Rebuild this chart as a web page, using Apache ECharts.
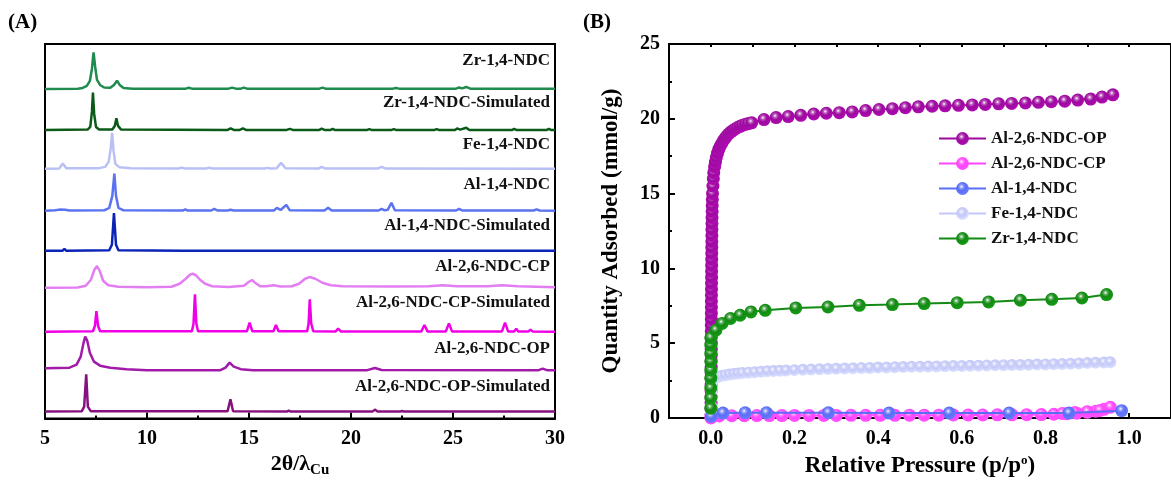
<!DOCTYPE html>
<html>
<head>
<meta charset="utf-8">
<script src="https://cdn.jsdelivr.net/npm/echarts@6/dist/echarts.min.js"></script>
<style>
  html, body { margin: 0; padding: 0; background: #fff; }
  #chart { width: 1171px; height: 483px; }
</style>
</head>
<body>
<div id="chart"></div>
<script>
// ---------- (A) PXRD patterns: [2θ, intensity above the trace baseline] ----------
const xrdNames = [
  'Zr-1,4-NDC', 'Zr-1,4-NDC-Simulated', 'Fe-1,4-NDC', 'Al-1,4-NDC', 'Al-1,4-NDC-Simulated',
  'Al-2,6-NDC-CP', 'Al-2,6-NDC-CP-Simulated', 'Al-2,6-NDC-OP', 'Al-2,6-NDC-OP-Simulated'
];
// stacking offset of each pattern (same units as intensity)
const xrdOffsets = [330, 289, 250, 208, 168, 131, 87, 48, 7];

const xrdZr14 = [[5,0],[6.6,0.3],[6.85,1],[7.05,3],[7.2,8],[7.3,20],[7.38,36.7],[7.46,22],[7.55,9],[7.7,4],[7.9,1.5],[8.2,1.2],[8.38,4],[8.53,8.3],[8.66,4],[8.85,1],[9.3,0.3],[11.9,0.3],[12.04,1.2],[12.2,0.3],[14.0,0.3],[14.17,1.3],[14.35,0.3],[14.6,0.3],[14.74,1.3],[14.9,0.3],[18.45,0.3],[18.6,1.3],[18.75,0.3],[22.05,0.3],[22.2,1],[22.35,0.3],[25.15,0.3],[25.3,1.5],[25.45,0.6],[25.65,2],[25.85,0.3],[30,0.3]];
const xrdZr14Sim = [[5,0],[7.1,0.5],[7.22,3],[7.3,18],[7.35,37.3],[7.41,16],[7.5,3],[7.65,0.5],[8.3,0.5],[8.42,4],[8.5,11.7],[8.58,4],[8.72,0.5],[13.95,0],[14.1,1.5],[14.25,0],[14.55,0],[14.7,1.5],[14.85,0],[16.85,0],[17.0,1],[17.15,0],[18.45,0],[18.56,1.2],[18.7,0],[19.0,0],[19.1,1],[19.2,0],[20.8,0],[20.9,0.8],[21.0,0],[22.0,0],[22.1,0.8],[22.2,0],[24.1,0],[24.2,0.8],[24.3,0],[25.1,0],[25.2,1.5],[25.35,0.3],[25.65,2.2],[25.8,0],[27.9,0],[28.0,1],[28.1,0],[29.6,0],[29.7,1],[29.8,0],[30,0]];
const xrdFe14 = [[5,0],[5.7,0.3],[5.87,5.3],[6.05,0.5],[7.6,0.5],[7.95,2],[8.12,7],[8.22,20],[8.29,36],[8.36,18],[8.45,5],[8.65,1.5],[9.2,0.5],[11.55,0.3],[11.7,1.2],[11.85,0.3],[12.9,0.3],[13.06,1.2],[13.2,0.3],[15.75,0.3],[15.9,1],[16.05,0.3],[16.35,0.5],[16.57,6],[16.8,0.5],[18.4,0.3],[18.56,2],[18.75,0.3],[21.3,0.3],[21.5,2],[21.7,0.3],[30,0]];
const xrdAl14 = [[5,0],[5.5,0.5],[5.7,1.2],[6.0,1.0],[6.2,0.3],[7.9,0.5],[8.15,3],[8.3,15],[8.4,37.3],[8.48,15],[8.6,3],[8.85,0.5],[11.75,0.3],[11.88,1.5],[12.0,0.3],[13.15,0.3],[13.3,2],[13.45,0.3],[13.95,0.3],[14.1,1],[14.25,0.3],[16.22,0.3],[16.37,3],[16.55,0.8],[16.83,6],[17.0,0.5],[18.7,0.3],[18.88,3],[19.05,0.3],[21.35,0.3],[21.5,2],[21.65,0.5],[21.8,1],[21.98,8],[22.15,0.5],[25.15,0.3],[25.3,2],[25.45,0.3],[28.95,0.3],[29.1,1.5],[29.25,0.3],[30,0]];
const xrdAl14Sim = [[5,0],[5.85,0],[5.95,2],[6.05,0],[8.15,0.5],[8.28,6],[8.38,37.7],[8.48,6],[8.6,0.5],[11.8,0],[11.88,1.5],[11.96,0],[16.72,0],[16.8,1.5],[16.88,0],[18.72,0],[18.8,1],[18.88,0],[30,0]];
const xrdAl26CP = [[5,0],[6.6,0.3],[7.0,2],[7.25,8],[7.42,18],[7.55,21.7],[7.68,17],[7.85,7],[8.1,2.5],[8.6,1],[10,0.5],[11.2,1],[11.6,4],[11.9,9],[12.1,13],[12.24,14],[12.4,12.5],[12.6,8],[12.85,4],[13.2,1.5],[14.0,0.8],[14.75,2],[15.0,6],[15.15,7.7],[15.3,5],[15.55,1.5],[15.85,1.5],[16.2,2.5],[16.55,1.2],[17.1,1.5],[17.45,4],[17.75,9],[17.98,10.7],[18.25,9],[18.6,5],[19.0,2.5],[19.6,1.5],[22,1.2],[23.8,1.5],[24.5,2.5],[25.2,1.5],[26.7,1.5],[27.4,2.5],[28.2,1.5],[30,0.5]];
const xrdAl26CPSim = [[5,0],[7.35,0.5],[7.45,6],[7.52,20.7],[7.6,6],[7.7,0.5],[12.2,0.5],[12.28,8],[12.35,37.3],[12.42,8],[12.5,0.5],[14.9,0.5],[15.03,9],[15.16,0.5],[16.2,0.5],[16.32,6.7],[16.45,0.5],[17.85,0.5],[17.92,8],[17.98,32.3],[18.05,8],[18.15,0.5],[19.25,0.3],[19.37,3],[19.5,0.3],[23.45,0.3],[23.6,6.7],[23.75,0.3],[24.65,0.3],[24.8,8.3],[24.95,0.3],[27.4,0.3],[27.55,9],[27.7,0.3],[28.0,0.3],[28.1,3],[28.2,0.3],[28.7,0.3],[28.8,2],[28.9,0.3],[30,0]];
const xrdAl26OP = [[5,2.5],[6.2,3],[6.55,6],[6.75,14],[6.88,27],[6.97,34],[7.07,30],[7.2,18],[7.4,9],[7.7,5],[8.2,3],[9,1.5],[10,0.5],[12,0.3],[13.6,0.5],[13.85,3],[14.05,8],[14.25,4],[14.6,1.5],[15.2,0.5],[20.8,0.5],[21.17,2.7],[21.5,0.7],[29.2,0.5],[29.4,2],[29.6,0.5],[30,0.3]];
const xrdAl26OPSim = [[5,0],[6.8,0.3],[6.92,5],[7.02,37.3],[7.1,5],[7.25,0.3],[13.95,0.3],[14.09,12.3],[14.22,0.3],[16.85,0],[16.95,1],[17.05,0],[17.9,0],[17.98,1],[18.06,0],[21.05,0],[21.17,2],[21.3,0],[22.4,0],[22.5,0.6],[22.6,0],[30,0]];

const xrdPatterns = [xrdZr14, xrdZr14Sim, xrdFe14, xrdAl14, xrdAl14Sim, xrdAl26CP, xrdAl26CPSim, xrdAl26OP, xrdAl26OPSim];
const xrdTicks = [5, 10, 15, 20, 25, 30];

// ---------- (B) N2 isotherms: [p/p0, quantity adsorbed (mmol/g)] ----------
const isoNames = ['Al-2,6-NDC-OP', 'Al-2,6-NDC-CP', 'Al-1,4-NDC', 'Fe-1,4-NDC', 'Zr-1,4-NDC'];

const isoAl26OP = [
  [0.0005,0.2],[0.0005,0.6],[0.0006,1.0],[0.0006,1.4],[0.0007,1.8],[0.0007,2.2],[0.0008,2.6],[0.0008,3.0],[0.0009,3.4],[0.0009,3.8],
  [0.001,4.2],[0.001,4.6],[0.0011,5.0],[0.0011,5.4],[0.0012,5.8],[0.0012,6.2],[0.0013,6.6],[0.0013,7.0],[0.0014,7.4],[0.0014,7.8],
  [0.0015,8.2],[0.0016,8.6],[0.0017,9.0],[0.0018,9.4],[0.0019,9.8],[0.002,10.2],[0.0021,10.6],[0.0022,11.0],[0.0023,11.4],[0.0024,11.8],
  [0.0025,12.2],[0.0026,12.6],[0.0027,13.0],[0.0029,13.4],[0.0031,13.8],[0.0033,14.2],[0.0036,14.6],[0.004,15.0],[0.005,15.5],[0.006,16.0],
  [0.007,16.4],[0.009,16.8],[0.011,17.1],[0.013,17.4],[0.016,17.7],[0.019,17.95],[0.022,18.15],[0.026,18.35],[0.03,18.55],[0.034,18.7],
  [0.038,18.85],[0.043,19.0],[0.048,19.12],[0.053,19.22],[0.058,19.32],[0.064,19.42],[0.07,19.5],[0.076,19.57],[0.083,19.63],[0.09,19.68],
  [0.0976,19.73],[0.127,19.95],[0.156,20.08],[0.185,20.15],[0.215,20.23],[0.246,20.32],[0.276,20.37],[0.307,20.41],[0.338,20.46],[0.37,20.55],
  [0.402,20.62],[0.434,20.68],[0.465,20.74],[0.496,20.8],[0.529,20.84],[0.56,20.87],[0.592,20.9],[0.625,20.93],[0.656,20.96],[0.688,21.0],
  [0.719,21.03],[0.752,21.06],[0.783,21.1],[0.814,21.14],[0.846,21.18],[0.877,21.25],[0.908,21.32],[0.935,21.45],[0.961,21.6]
];
const isoAl26CP = [
  [0.0,0.0],[0.004,0.1],[0.02,0.14],[0.05,0.15],[0.08,0.15],[0.11,0.16],[0.14,0.16],[0.17,0.16],[0.2,0.17],[0.235,0.17],
  [0.27,0.17],[0.3,0.17],[0.335,0.18],[0.37,0.18],[0.405,0.18],[0.44,0.18],[0.475,0.19],[0.51,0.19],[0.545,0.19],[0.58,0.2],
  [0.615,0.2],[0.65,0.2],[0.685,0.21],[0.72,0.21],[0.755,0.22],[0.79,0.23],[0.82,0.25],[0.85,0.28],[0.875,0.32],[0.9,0.38],
  [0.92,0.45],[0.94,0.58],[0.955,0.72],[0.93,0.5],[0.9,0.42],[0.87,0.36],[0.84,0.3]
];
const isoAl14 = [[0.001,0.1],[0.029,0.33],[0.082,0.35],[0.133,0.35],[0.281,0.35],[0.426,0.33],[0.57,0.33],[0.713,0.33],[0.856,0.33],[0.982,0.49]];
const isoFe14 = [
  [0.0,0.3],[0.001,0.8],[0.001,1.3],[0.002,1.8],[0.002,2.2],[0.003,2.5],[0.008,2.65],[0.015,2.72],[0.025,2.8],[0.035,2.86],
  [0.045,2.9],[0.055,2.94],[0.065,2.97],[0.075,3.0],[0.09,3.03],[0.105,3.06],[0.12,3.09],[0.135,3.12],[0.15,3.14],[0.165,3.16],
  [0.18,3.18],[0.2,3.2],[0.22,3.22],[0.24,3.24],[0.26,3.26],[0.28,3.28],[0.3,3.29],[0.32,3.31],[0.34,3.32],[0.36,3.34],
  [0.38,3.35],[0.4,3.37],[0.42,3.38],[0.44,3.4],[0.46,3.41],[0.48,3.42],[0.5,3.43],[0.52,3.44],[0.54,3.45],[0.56,3.46],
  [0.58,3.47],[0.6,3.48],[0.62,3.49],[0.64,3.5],[0.66,3.51],[0.68,3.52],[0.7,3.53],[0.72,3.54],[0.74,3.55],[0.76,3.56],
  [0.78,3.57],[0.8,3.58],[0.82,3.6],[0.84,3.61],[0.86,3.63],[0.88,3.65],[0.9,3.67],[0.92,3.69],[0.94,3.71],[0.955,3.73]
];
const isoZr14 = [
  [0.0,0.66],[0.0,1.33],[0.0,2.0],[0.0,2.66],[0.0,3.2],[0.0,3.77],[0.0,4.32],[0.0,4.87],[0.0,5.36],[0.012,5.87],
  [0.027,6.32],[0.047,6.65],[0.07,6.87],[0.096,7.09],[0.13,7.2],[0.203,7.36],[0.28,7.42],[0.355,7.53],[0.434,7.58],[0.51,7.65],
  [0.589,7.71],[0.664,7.76],[0.74,7.87],[0.815,7.93],[0.887,8.02],[0.946,8.25]
];
const isoSeriesData = [isoAl26OP, isoAl26CP, isoAl14, isoFe14, isoZr14];
const isoXTicks = [0.0, 0.2, 0.4, 0.6, 0.8, 1.0];

// ---------- styling ----------
const SERIF = '"Liberation Serif", "Times New Roman", serif';
const xrdColors = ['#1f8b4e', '#0c5a18', '#b9c0f6', '#5b73f0', '#0b24b8', '#e27ef2', '#f000e6', '#a21aa9', '#86107d'];
const xrdLabelLift = [28, 27, 24, 26, 25, 21, 29, 22, 25];
const isoColors = ['#9c0a9e', '#ff46ff', '#5a6ef5', '#c3c8f8', '#138a13'];
const isoSymbolSize = [13, 13, 13, 12, 13];
const isoZ = [2, 3, 5, 4, 6];

// shaded sphere fill for isotherm markers
function ball(c) {
  return {
    type: 'radial', x: 0.42, y: 0.36, r: 0.62,
    colorStops: [
      { offset: 0, color: 'rgba(255,255,255,0.95)' },
      { offset: 0.22, color: echarts.color.lift(c, 0.35) },
      { offset: 0.5, color: c },
      { offset: 1, color: echarts.color.lift(c, -0.12) }
    ]
  };
}

const axisLabelStyle = { fontFamily: SERIF, fontWeight: 'bold', fontSize: 20, color: '#000' };

const series = [];
xrdPatterns.forEach((pts, i) => {
  series.push({
    name: xrdNames[i], type: 'line', xAxisIndex: 0, yAxisIndex: 0,
    data: pts.map(p => [p[0], xrdOffsets[i] + p[1]]),
    symbol: 'none', silent: true, animation: false,
    lineStyle: { color: xrdColors[i], width: 2.5 }, z: 3
  });
});
isoSeriesData.forEach((pts, i) => {
  series.push({
    name: isoNames[i], type: 'line', xAxisIndex: 1, yAxisIndex: 1,
    data: pts, symbol: 'circle', symbolSize: isoSymbolSize[i], animation: false,
    color: isoColors[i],
    lineStyle: { color: isoColors[i], width: 2 },
    itemStyle: { color: ball(isoColors[i]), borderWidth: 0 },
    z: isoZ[i]
  });
});

const chart = echarts.init(document.getElementById('chart'), null, { renderer: 'canvas' });
chart.setOption({
  backgroundColor: '#fff',
  animation: false,
  grid: [
    { left: 45, right: 616, top: 44, bottom: 64, show: true, borderColor: '#000', borderWidth: 2, backgroundColor: 'transparent' },
    { left: 669, right: -10, top: 44, bottom: 63, show: true, borderColor: '#000', borderWidth: 2, backgroundColor: 'transparent' }
  ],
  xAxis: [
    {
      gridIndex: 0, type: 'value', min: 5, max: 30, interval: 5,
      axisLine: { show: true, onZero: false, lineStyle: { color: '#000', width: 2 } },
      axisTick: { show: true, inside: true, length: 6, lineStyle: { color: '#000', width: 2 } },
      minorTick: { show: true, splitNumber: 2, length: 3, lineStyle: { color: '#000', width: 2 } },
      splitLine: { show: false },
      axisLabel: Object.assign({ margin: 10, customValues: xrdTicks }, axisLabelStyle),
      name: '{a|2θ/λ}{s|Cu}', nameLocation: 'middle', nameGap: 31,
      nameTextStyle: {
        rich: {
          a: { fontFamily: SERIF, fontWeight: 'bold', fontSize: 22, color: '#000' },
          s: { fontFamily: SERIF, fontWeight: 'bold', fontSize: 15, color: '#000', padding: [12, 0, 0, 0] }
        }
      }
    },
    {
      gridIndex: 1, type: 'value', min: -0.1, max: 1.1,
      axisLine: { show: true, onZero: false, lineStyle: { color: '#000', width: 2 } },
      axisTick: { show: true, inside: true, length: 5, customValues: isoXTicks, lineStyle: { color: '#000', width: 2 } },
      splitLine: { show: false },
      axisLabel: Object.assign({ margin: 11, customValues: isoXTicks, formatter: v => v.toFixed(1) }, axisLabelStyle),
      name: 'Relative Pressure (p/p{o|o})', nameLocation: 'middle', nameGap: 36,
      nameTextStyle: {
        fontFamily: SERIF, fontWeight: 'bold', fontSize: 23, color: '#000',
        rich: { o: { fontFamily: SERIF, fontWeight: 'bold', fontSize: 13, color: '#000', padding: [0, 0, 12, 0] } }
      }
    },
    {
      // minor ticks of the pressure axis
      gridIndex: 1, type: 'value', min: -0.1, max: 1.1, interval: 0.1,
      axisLine: { show: false, onZero: false }, axisLabel: { show: false }, splitLine: { show: false },
      axisTick: { show: true, inside: true, length: 3, lineStyle: { color: '#000', width: 2 } }
    }
  ],
  yAxis: [
    { gridIndex: 0, type: 'value', min: 0, max: 375, show: false },
    {
      gridIndex: 1, type: 'value', min: 0, max: 25, interval: 5,
      axisLine: { show: true, onZero: false, lineStyle: { color: '#000', width: 2 } },
      axisTick: { show: true, inside: true, length: 6, lineStyle: { color: '#000', width: 2 } },
      minorTick: { show: true, splitNumber: 2, length: 3, lineStyle: { color: '#000', width: 2 } },
      splitLine: { show: false },
      axisLabel: Object.assign({ margin: 9 }, axisLabelStyle),
      name: 'Quantity Adsorbed (mmol/g)', nameLocation: 'middle', nameGap: 46,
      nameTextStyle: { fontFamily: SERIF, fontWeight: 'bold', fontSize: 23, color: '#000' }
    }
  ],
  legend: {
    data: isoNames.map((n, i) => ({
      name: n,
      itemStyle: { color: ball(isoColors[i]), borderWidth: 0 },
      lineStyle: { color: isoColors[i], width: 2 }
    })),
    orient: 'vertical', left: 938, top: 130, padding: 0,
    itemWidth: 47, itemHeight: 16, itemGap: 8,
    textStyle: { fontFamily: SERIF, fontWeight: 'bold', fontSize: 17, color: '#111' },
    selectedMode: false
  },
  series: series
});

// panel tags and pattern labels
const graphics = [
  { type: 'text', x: 8, y: 12, style: { text: '(A)', font: 'bold 21px ' + SERIF, fill: '#000' } },
  { type: 'text', x: 583, y: 12, style: { text: '(B)', font: 'bold 21px ' + SERIF, fill: '#000' } }
];
xrdNames.forEach((name, i) => {
  const pt = chart.convertToPixel({ xAxisIndex: 0, yAxisIndex: 0 }, [30, xrdOffsets[i] + xrdLabelLift[i]]);
  graphics.push({
    type: 'text', x: pt[0] - 5, y: pt[1],
    style: { text: name, font: 'bold 17px ' + SERIF, fill: '#111', align: 'right', verticalAlign: 'middle', textAlign: 'right', textVerticalAlign: 'middle' }
  });
});
chart.setOption({ graphic: graphics });
</script>
</body>
</html>
